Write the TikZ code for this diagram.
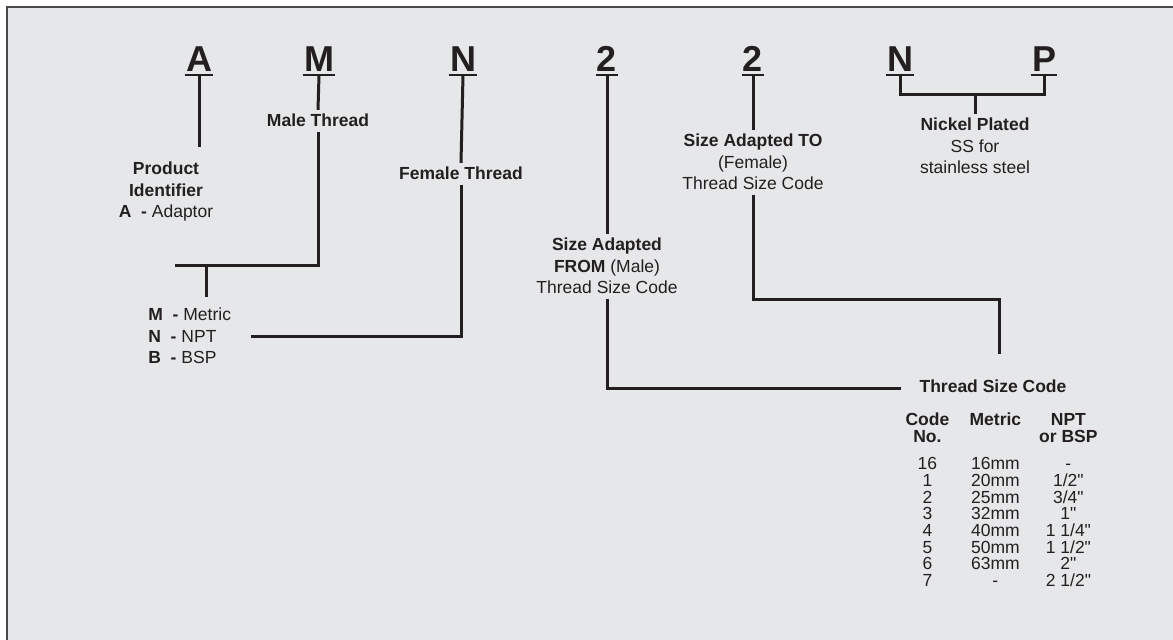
\documentclass[tikz,border=0pt]{standalone}
\usepackage{fontspec}
\setmainfont{Liberation Sans}[Ligatures=TeXOff]
\usepackage{array}
\definecolor{temno}{HTML}{231F20}
\definecolor{podlaga}{HTML}{E6E7E8}
\definecolor{rob}{HTML}{4A4A4A}
\tikzset{
	diagram/.style={x=0.5pt, y=-0.5pt, text=temno},
	crka/.style={font=\fontsize{18pt}{18pt}\selectfont\bfseries, anchor=base,
	             inner xsep=0.5pt, inner ysep=1.5pt},
	podcrta/.style={draw=temno, line width=1pt},
	opis/.style={font=\fontsize{8.75pt}{10.75pt}\selectfont, align=center, anchor=base,
	             inner xsep=2pt, inner ysep=2pt},
	crta/.style={draw=temno, line width=1.5pt},
	okvir/.style={draw=rob, line width=0.9pt},
	tabela/.style={font=\fontsize{8.75pt}{6.9pt}\selectfont, inner sep=0pt, anchor=base west},
}
\newcolumntype{C}[1]{>{\centering\arraybackslash}p{#1}}

\begin{document}
\begin{tikzpicture}[diagram]

% ---------- ozadje ----------
\useasboundingbox (0,0) rectangle (1173,640);
\fill[white] (0,0) rectangle (1173,640);
\fill[podlaga] (7,7) rectangle (1173,640);
\draw[okvir] (7,640) -- (7,7) -- (1173,7);

% ---------- oznaka ----------
\node[crka] (crkaA)  at (199,72)  {A};
\node[crka] (crkaM)  at (319,72)  {M};
\node[crka] (crkaN)  at (463,72)  {N};
\node[crka] (crkaD1) at (607,72)  {2};
\node[crka] (crkaD2) at (753,72)  {2};
\node[crka] (crkaN2) at (900,72)  {N};
\node[crka] (crkaP)  at (1044,72) {P};
\foreach \c in {crkaA,crkaM,crkaN,crkaD1,crkaD2,crkaN2,crkaP}
    \draw[podcrta] (\c.south west) -- (\c.south east);

% ---------- opisi (sidro = zadnja vrstica) ----------
\node[opis] (izdelek) at (166,218) {\textbf{Product}\\\textbf{Identifier}\\\textbf{A\ \ -} Adaptor};
\node[opis] (moski) at (318,127) {\textbf{Male Thread}};
\node[opis] (zenski) at (461,180) {\textbf{Female Thread}};
\node[opis, align=left, anchor=base west] (navoji) at (144,364)
    {\textbf{M\ \ -} Metric\\\textbf{N\ \ -} NPT\\\textbf{B\ \ -} BSP};
\node[opis] (od) at (607,294) {\textbf{Size Adapted}\\\textbf{FROM} (Male)\\Thread Size Code};
\node[opis] (na) at (753,190) {\textbf{Size Adapted TO}\\(Female)\\Thread Size Code};
\node[opis] (nikelj) at (975,174) {\textbf{Nickel Plated}\\SS for\\stainless steel};
\node[opis] (koda) at (993,393) {\textbf{Thread Size Code}};

\node[tabela] (tab) at (893,426) {\begin{tabular}[t]{@{}C{34pt}@{}C{34pt}@{}C{39pt}@{}}
    \textbf{Code} & \textbf{Metric} & \textbf{NPT}\\
    \textbf{No.}  &                 & \textbf{or BSP}\\[5.5pt]
    16 & 16mm & -\\
    1  & 20mm & 1/2"\\
    2  & 25mm & 3/4"\\
    3  & 32mm & 1"\\
    4  & 40mm & 1 1/4"\\
    5  & 50mm & 1 1/2"\\
    6  & 63mm & 2"\\
    7  & -    & 2 1/2"\\
\end{tabular}};

% ---------- povezave ----------
\coordinate (mlevo) at (175,266);
\coordinate (mdol) at (206,266);

\draw[crta, shorten >=5.5pt] (crkaA.south) -- (crkaA.south |- izdelek.north);

\draw[crta] (crkaM.south) -- (moski.north);
\draw[crta] (moski.south) |- (mlevo);
\draw[crta, shorten >=3.5pt] (mdol) -- (mdol |- navoji.north);

\draw[crta] (crkaN.south) -- (zenski.north);
\draw[crta] (zenski.south) |- ([xshift=8pt]navoji.east);

\draw[crta] (crkaD1.south) -- (od.north);
\draw[crta] (od.south) |- ([xshift=-7pt,yshift=-1pt]koda.west);

\draw[crta] (crkaD2.south) -- (na.north);
\draw[crta, shorten >=11pt] (na.south) -- ++(0,105) -| ([xshift=3pt]koda.north);

\draw[crta] (crkaN2.south) -- ++(0,19) coordinate (np) -| (crkaP.south);
\draw[crta] (nikelj.north |- np) -- (nikelj.north);

\end{tikzpicture}
\end{document}
